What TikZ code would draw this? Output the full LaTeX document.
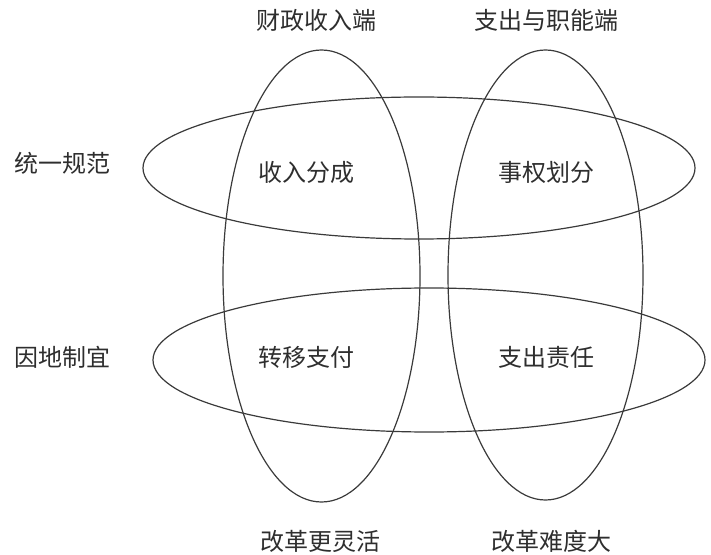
\documentclass[tikz,border=0pt]{standalone}
\usepackage{xcolor}
\usepackage{fontspec}
\usepackage{tikz}
\usetikzlibrary{positioning, calc}
\newfontfamily\cjk{Noto Sans CJK SC}
\definecolor{ringgray}{HTML}{3A3A3A}
\definecolor{textgray}{HTML}{2E2E2E}

\begin{document}
\begin{tikzpicture}[
    x=0.5pt, y=-0.5pt,
    ring/.style={draw=ringgray, line width=0.6pt},
    label/.style={font=\cjk\fontsize{12}{14}\selectfont, text=textgray, inner sep=0pt},
]
    \useasboundingbox (0,0) rectangle (711,555);

    % Vertical rings
    \draw[ring] (321.5,276) ellipse [x radius=98.5, y radius=226];
    \draw[ring] (545.5,275) ellipse [x radius=97.5, y radius=225];

    % Horizontal rings
    \draw[ring] (419,168) ellipse [x radius=276, y radius=71];
    \draw[ring] (429,360) ellipse [x radius=276, y radius=72];

    % Column heads
    \node[label] (revenue) at (316,20) {财政收入端};
    \node[label] (spending) at (546,20) {支出与职能端};

    % Row heads
    \node[label] (unified) at (62,163) {统一规范};
    \node[label] (local) at (62,357) {因地制宜};

    % Cells
    \node[label] (share) at (306,172) {收入分成};
    \node[label] (power) at (546,172) {事权划分};
    \node[label] (transfer) at (306,357) {转移支付};
    \node[label] (duty) at (546,357) {支出责任};

    % Column feet
    \node[label] (flexible) at (320,541) {改革更灵活};
    \node[label] (hard) at (551,541) {改革难度大};

\end{tikzpicture}
\end{document}
